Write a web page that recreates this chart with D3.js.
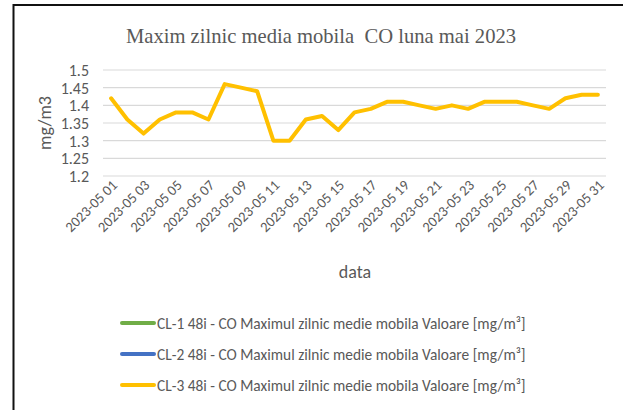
<!DOCTYPE html>
<html><head><meta charset="utf-8">
<script src="https://cdn.jsdelivr.net/npm/d3@7"></script>
<style>body{margin:0;background:#fff}svg{display:block}</style>
</head><body>
<svg id="c" width="623" height="410"></svg>
<script>
const categories = d3.range(1, 32).map(d => "2023-05 " + String(d).padStart(2, "0"));
const tickLabels = categories.filter((d, i) => i % 2 === 0);
const cl1Values = [];
const cl2Values = [];
const cl3Values = [1.42,1.36,1.32,1.36,1.38,1.38,1.36,1.46,1.45,1.44,1.30,1.30,1.36,1.37,1.33,1.38,1.39,1.41,1.41,1.40,1.39,1.40,1.39,1.41,1.41,1.41,1.40,1.39,1.42,1.43,1.43];
const yTicks = [1.2,1.25,1.3,1.35,1.4,1.45,1.5];
const seriesNames = [
  "CL-1 48i - CO Maximul zilnic medie mobila Valoare [mg/m³]",
  "CL-2 48i - CO Maximul zilnic medie mobila Valoare [mg/m³]",
  "CL-3 48i - CO Maximul zilnic medie mobila Valoare [mg/m³]"
];
const seriesColors = ["#70ad47", "#4472c4", "#ffc000"];
const seriesValues = [cl1Values, cl2Values, cl3Values];

const svg = d3.select("#c");
const font = "Carlito, Calibri, 'Liberation Sans', sans-serif";
const grey = "#595959";

// frame (left and top border)
svg.append("line").attr("x1",13.5).attr("x2",13.5).attr("y1",4).attr("y2",410).attr("stroke","#111").attr("stroke-width",2);
svg.append("line").attr("x1",13).attr("x2",623).attr("y1",5).attr("y2",5).attr("stroke","#111").attr("stroke-width",2);

const x = d3.scaleBand().domain(categories).range([103, 606]);
const y = d3.scaleLinear().domain([1.2, 1.5]).range([176, 70]);

// grid
svg.append("g").selectAll("line").data(yTicks).join("line")
  .attr("x1",103).attr("x2",606)
  .attr("y1",d=>y(d)).attr("y2",d=>y(d))
  .attr("stroke","#d9d9d9").attr("stroke-width",1.2);

// y axis labels
const yAxis = d3.axisLeft(y).tickValues(yTicks).tickFormat(d => String(+d.toFixed(2))).tickSize(0).tickPadding(0);
const gy = svg.append("g").attr("transform","translate(89,0)").call(yAxis);
gy.select(".domain").remove();
gy.selectAll("text").attr("fill",grey).style("font-family",font).style("font-size","16px").attr("dy","0.34em");

// x axis labels
const xAxis = d3.axisBottom(x).tickValues(tickLabels).tickSize(0).tickPadding(0);
const gx = svg.append("g").attr("transform","translate(0,176)").call(xAxis);
gx.select(".domain").remove();
gx.selectAll("text")
  .attr("fill",grey).style("font-family",font).style("font-size","14.5px")
  .attr("text-anchor","end").attr("dy",null).attr("y",0)
  .attr("transform","translate(7,10) rotate(-45)");

// lines
const line = d3.line().x((d,i)=>x(categories[i]) + x.bandwidth()/2).y(d=>y(d));
seriesValues.forEach((vals, k) => {
  if (!vals.length) return;
  svg.append("path").datum(vals).attr("d", line)
    .attr("fill","none").attr("stroke",seriesColors[k]).attr("stroke-width",4)
    .attr("stroke-linejoin","round").attr("stroke-linecap","round");
});

// title
svg.append("text").attr("x",321).attr("y",43).attr("text-anchor","middle")
  .attr("fill",grey).style("font-family","'Liberation Serif','Times New Roman',serif").style("font-size","20.6px")
  .style("white-space","pre")
  .text("Maxim zilnic media mobila  CO luna mai 2023");

// axis titles
svg.append("text").attr("transform","translate(51,123) rotate(-90)").attr("text-anchor","middle")
  .attr("fill",grey).style("font-family",font).style("font-size","18px").text("mg/m3");
svg.append("text").attr("x",355).attr("y",278).attr("text-anchor","middle")
  .attr("fill",grey).style("font-family",font).style("font-size","18px").text("data");

// legend
const lg = svg.append("g").selectAll("g").data(seriesNames).join("g")
  .attr("transform",(d,i)=>`translate(0,${323 + i*31})`);
lg.append("line").attr("x1",122).attr("x2",154).attr("y1",0).attr("y2",0)
  .attr("stroke",(d,i)=>seriesColors[i]).attr("stroke-width",4).attr("stroke-linecap","round");
lg.append("text").attr("x",157).attr("y",5.5).attr("fill",grey)
  .style("font-family",font).style("font-size","15.4px").text(d=>d);
</script>
</body></html>
